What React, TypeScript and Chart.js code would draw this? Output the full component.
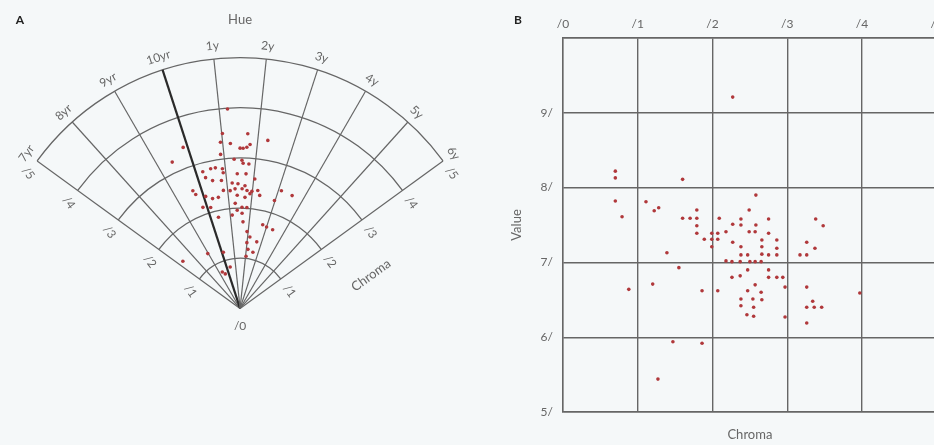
import { useEffect, useRef } from 'react';
import { Chart, registerables } from 'chart.js';
Chart.register(...registerables);

// ---------- Panel A (hue / chroma fan) ----------
const hueLabels = ['7yr', '8yr', '9yr', '10yr', '1y', '2y', '3y', '4y', '5y', '6y'];
const chromaRingsA = [1, 2, 3, 4, 5];
const chromaLabelsA = ['/1', '/2', '/3', '/4', '/5'];
// hue position measured along hueLabels (0 = 7yr ... 9 = 6y)
const hueA = [
  4.20, 4.02, 4.71, 5.28, 3.94, 4.22, 4.79, 4.70, 4.50, 4.59,
  3.90, 2.88, 2.43, 4.31, 4.56, 4.60, 4.79, 3.23, 3.51, 3.67,
  3.90, 3.91, 4.40, 4.71, 3.27, 3.49, 3.81, 5.04, 4.20, 4.42,
  4.69, 4.30, 4.58, 4.78, 4.98, 3.83, 4.10, 5.21, 2.68, 2.73,
  3.08, 3.33, 3.58, 4.38, 4.71, 4.91, 5.32, 5.97, 6.56, 6.11,
  2.82, 3.15, 4.28, 4.59, 4.36, 4.82, 3.39, 4.10, 4.60, 4.66,
  5.76, 6.00, 6.37, 4.93, 5.15, 5.67, 4.99, 5.13, 5.57, 5.04,
  1.96, 3.12, 0.30, 2.57, 2.34, 3.38,
];
const chromaA = [
  3.99, 3.51, 3.49, 3.40, 3.34, 3.30, 3.28, 3.22, 3.20, 3.20,
  3.10, 3.41, 3.22, 2.98, 2.96, 2.90, 2.89, 2.83, 2.85, 2.85,
  2.81, 2.73, 2.69, 2.69, 2.70, 2.61, 2.58, 2.60, 2.51, 2.49,
  2.45, 2.39, 2.39, 2.36, 2.35, 2.38, 2.36, 2.38, 2.53, 2.44,
  2.34, 2.26, 2.26, 2.26, 2.22, 2.30, 2.29, 2.26, 2.48, 2.49,
  2.15, 2.10, 2.10, 2.02, 1.96, 2.02, 1.87, 1.87, 1.90, 1.73,
  1.73, 1.71, 1.70, 1.54, 1.44, 1.37, 1.32, 1.19, 1.15, 1.05,
  1.27, 1.17, 1.48, 0.75, 0.81, 0.85,
];

// ---------- Panel B (chroma / value) ----------
const chromaB = [
  0.70, 0.70, 1.60, 0.70, 0.79, 1.11, 1.22, 1.28, 1.60, 1.70,
  1.79, 1.79, 1.79, 1.79, 1.89, 1.99, 2.07, 1.99, 2.07, 1.99,
  2.09, 1.39, 1.55, 1.20, 0.88, 1.86, 2.07, 1.47, 1.86, 1.27,
  2.27, 2.58, 2.49, 2.38, 2.75, 3.38, 3.48, 2.27, 2.38, 2.58,
  2.18, 2.49, 2.57, 2.75, 2.27, 2.66, 2.86, 3.26, 2.38, 2.66,
  2.86, 3.37, 2.38, 2.47, 2.66, 2.75, 2.86, 3.17, 3.26, 2.18,
  2.26, 2.37, 2.50, 2.57, 2.65, 2.47, 2.75, 2.26, 2.37, 2.75,
  2.86, 2.94, 2.57, 2.97, 2.47, 2.65, 3.26, 2.38, 2.54, 2.66,
  3.34, 2.38, 2.55, 3.26, 3.36, 3.46, 2.46, 2.55, 2.97, 3.26,
  3.97,
];
const valueB = [
  8.22, 8.13, 8.11, 7.82, 7.61, 7.81, 7.69, 7.73, 7.59, 7.59,
  7.70, 7.59, 7.49, 7.39, 7.31, 7.39, 7.39, 7.31, 7.31, 7.21,
  7.59, 7.13, 6.93, 6.71, 6.64, 6.62, 6.62, 5.94, 5.92, 5.44,
  9.21, 7.90, 7.70, 7.58, 7.58, 7.58, 7.49, 7.51, 7.50, 7.50,
  7.41, 7.41, 7.41, 7.39, 7.27, 7.30, 7.30, 7.27, 7.21, 7.21,
  7.19, 7.19, 7.10, 7.10, 7.11, 7.10, 7.10, 7.10, 7.10, 7.02,
  7.01, 7.01, 7.01, 7.01, 7.01, 6.90, 6.90, 6.80, 6.82, 6.80,
  6.80, 6.80, 6.70, 6.67, 6.62, 6.60, 6.67, 6.51, 6.51, 6.50,
  6.48, 6.42, 6.40, 6.40, 6.40, 6.40, 6.30, 6.28, 6.27, 6.19,
  6.59,
];

// ---------- layout / style constants ----------
const HUE_START = -54; // degrees from vertical for first hue
const HUE_STEP = 12;
const UNIT_PX = 51;
const ORIGIN_X = 240;
const ORIGIN_Y = 310;
const A_W = 490;
const H = 445;
const B_W = 460;
const DOT = '#b0383b';
const GRID = '#666666';
const TXT = '#666666';
const FONT = 'Lato, "Open Sans", sans-serif';

const rad = (d: number) => (d * Math.PI) / 180;

const fanPlugin = {
  id: 'fan',
  beforeDatasetsDraw(chart: any) {
    const { ctx } = chart;
    const sx = chart.scales.x;
    const sy = chart.scales.y;
    const ox = sx.getPixelForValue(0);
    const oy = sy.getPixelForValue(0);
    const unit = sx.getPixelForValue(1) - ox;
    const maxC = chromaRingsA[chromaRingsA.length - 1];
    const R = unit * maxC;
    const angles = hueLabels.map((_, i) => HUE_START + HUE_STEP * i);
    const a0 = angles[0];
    const a1 = angles[angles.length - 1];
    ctx.save();
    ctx.strokeStyle = GRID;
    ctx.lineWidth = 1.3;
    chromaRingsA.forEach((c) => {
      ctx.beginPath();
      ctx.arc(ox, oy, c * unit, rad(-90 + a0), rad(-90 + a1));
      ctx.stroke();
    });
    angles.forEach((t, i) => {
      const bold = hueLabels[i] === '10yr';
      ctx.beginPath();
      ctx.lineWidth = bold ? 2.2 : 1.2;
      ctx.strokeStyle = bold ? '#2a2a2a' : GRID;
      ctx.moveTo(ox, oy);
      ctx.lineTo(ox + R * Math.sin(rad(t)), oy - R * Math.cos(rad(t)));
      ctx.stroke();
    });
    ctx.fillStyle = TXT;
    ctx.textAlign = 'center';
    ctx.textBaseline = 'middle';
    const text = (s: string, x: number, y: number, rot: number, font: string) => {
      ctx.save();
      ctx.font = font;
      ctx.translate(x, y);
      ctx.rotate(rad(rot));
      ctx.fillText(s, 0, 0);
      ctx.restore();
    };
    const f11 = `12px ${FONT}`;
    angles.forEach((t, i) => {
      const r = R + 13;
      text(hueLabels[i], ox + r * Math.sin(rad(t)), oy - r * Math.cos(rad(t)), t, f11);
    });
    chromaRingsA.forEach((c, k) => {
      const r = c * unit;
      const sL = Math.sin(rad(a0));
      const cL = Math.cos(rad(a0));
      const lx = ox + r * sL - 15 * cL;
      const ly = oy - r * cL - 15 * sL;
      text(chromaLabelsA[k], lx, ly, 54, f11);
      const sR = Math.sin(rad(a1));
      const cR = Math.cos(rad(a1));
      const rx = ox + r * sR + 15 * cR;
      const ry = oy - r * cR + 15 * sR;
      text(chromaLabelsA[k], rx, ry, 54, f11);
    });
    text('/0', ox, oy + 18, 0, f11);
    text('Hue', ox, 20, 0, `13px ${FONT}`);
    {
      const sR = Math.sin(rad(a1));
      const cR = Math.cos(rad(a1));
      const along = 2.5 * unit;
      const perp = unit;
      text('Chroma', ox + along * sR + perp * cR, oy - along * cR + perp * sR, a1 - 90, `13px ${FONT}`);
    }
    ctx.fillStyle = '#222';
    text('A', 20, 20, 0, `bold 12px ${FONT}`);
    ctx.restore();
  },
};

const panelLetterB = {
  id: 'letterB',
  afterDraw(chart: any) {
    const { ctx } = chart;
    ctx.save();
    ctx.fillStyle = '#222';
    ctx.font = `bold 12px ${FONT}`;
    ctx.textAlign = 'center';
    ctx.textBaseline = 'middle';
    ctx.fillText('B', 28, 20);
    ctx.restore();
  },
};

export default function App() {
  const refA = useRef<HTMLCanvasElement>(null);
  const refB = useRef<HTMLCanvasElement>(null);

  useEffect(() => {
    const ptsA = hueA.map((h, i) => {
      const t = rad(HUE_START + HUE_STEP * h);
      return { x: chromaA[i] * Math.sin(t), y: chromaA[i] * Math.cos(t) };
    });
    const ptsB = chromaB.map((c, i) => ({ x: c, y: valueB[i] }));

    const chartA = new Chart(refA.current as HTMLCanvasElement, {
      type: 'scatter',
      data: {
        datasets: [
          { data: ptsA, backgroundColor: DOT, borderColor: DOT, borderWidth: 0, pointRadius: 1.8 },
        ],
      },
      options: {
        responsive: false,
        animation: false,
        events: [],
        layout: { padding: 0 },
        plugins: { legend: { display: false }, tooltip: { enabled: false } },
        scales: {
          x: { type: 'linear', display: false, min: -ORIGIN_X / UNIT_PX, max: (A_W - ORIGIN_X) / UNIT_PX },
          y: { type: 'linear', display: false, min: -(H - ORIGIN_Y) / UNIT_PX, max: ORIGIN_Y / UNIT_PX },
        },
      },
      plugins: [fanPlugin],
    } as any);

    const tickFont = { family: FONT, size: 12 };
    const chartB = new Chart(refB.current as HTMLCanvasElement, {
      type: 'scatter',
      data: {
        datasets: [
          { data: ptsB, backgroundColor: DOT, borderColor: DOT, borderWidth: 0, pointRadius: 1.8 },
        ],
      },
      options: {
        responsive: false,
        animation: false,
        events: [],
        layout: { padding: { left: 0, right: 13, top: 0, bottom: 0 } },
        plugins: { legend: { display: false }, tooltip: { enabled: false } },
        scales: {
          x: {
            type: 'linear',
            position: 'top',
            min: 0,
            max: 5,
            ticks: { stepSize: 1, callback: (v: any) => '/' + v, color: TXT, font: tickFont, padding: 7, maxRotation: 0 },
            grid: { color: GRID, lineWidth: 1.4, drawTicks: false },
            border: { color: GRID, width: 1.4 },
            afterFit: (s: any) => {
              s.height = 38;
            },
          },
          y: {
            type: 'linear',
            min: 5,
            max: 10,
            ticks: { stepSize: 1, callback: (v: any) => (v === 10 ? '' : v + '/'), color: TXT, font: tickFont, padding: 10 },
            grid: { color: GRID, lineWidth: 1.4, drawTicks: false },
            border: { color: GRID, width: 1.4 },
            title: { display: true, text: 'Value', color: TXT, font: { family: FONT, size: 13 }, padding: { top: 19, bottom: 0 } },
            afterFit: (s: any) => {
              s.width = 73;
            },
          },
          x2: {
            type: 'linear',
            position: 'bottom',
            min: 0,
            max: 5,
            grid: { display: false, drawTicks: false },
            ticks: { display: false },
            border: { color: GRID, width: 1.4 },
            title: { display: true, text: 'Chroma', color: TXT, font: { family: FONT, size: 13 }, padding: { top: 0, bottom: 2 } },
            afterFit: (s: any) => {
              s.height = 33;
            },
          },
        },
      },
      plugins: [panelLetterB],
    } as any);

    return () => {
      chartA.destroy();
      chartB.destroy();
    };
  }, []);

  return (
    <div
      style={{
        position: 'absolute',
        left: 0,
        top: 0,
        width: 934,
        height: H,
        overflow: 'hidden',
        background: '#f5f8f9',
      }}
    >
      <canvas ref={refA} width={A_W} height={H} style={{ position: 'absolute', left: 0, top: 0 }} />
      <canvas ref={refB} width={B_W} height={H} style={{ position: 'absolute', left: A_W, top: 0 }} />
    </div>
  );
}
